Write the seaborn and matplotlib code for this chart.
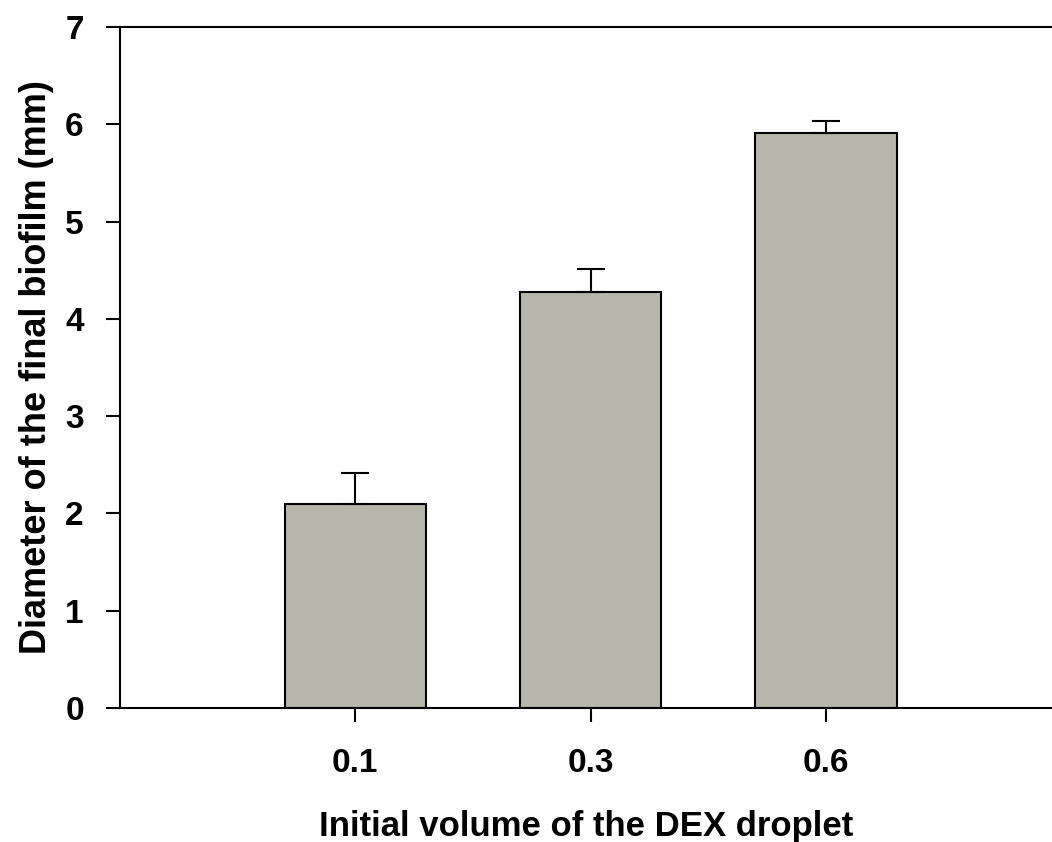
import numpy as np
import pandas as pd
import matplotlib
matplotlib.use('Agg')
import matplotlib.pyplot as plt
import seaborn as sns

# Data
volumes = ['0.1', '0.3', '0.6']
diameters = [2.10, 4.28, 5.91]
errors = [0.32, 0.23, 0.12]

df = pd.DataFrame({'Volume': volumes, 'Diameter': diameters, 'Err': errors})

sns.set_style('white')
plt.rcParams['font.family'] = ['Liberation Sans', 'DejaVu Sans']
plt.rcParams['font.weight'] = 'bold'
plt.rcParams['text.color'] = 'black'
plt.rcParams['axes.labelcolor'] = 'black'
plt.rcParams['xtick.color'] = 'black'
plt.rcParams['ytick.color'] = 'black'

fig = plt.figure(figsize=(10.52, 8.42), dpi=100)
ax = fig.add_axes([0.114, 0.159, 0.886, 0.809])

sns.barplot(data=df, x='Volume', y='Diameter', color='#B6B6AA', width=0.6,
            edgecolor='black', linewidth=1.5, errorbar=None, saturation=1, ax=ax)

# upward-only error bars
pos = np.arange(len(volumes))
ax.errorbar(pos, df['Diameter'], yerr=[np.zeros(len(errors)), df['Err']],
            fmt='none', ecolor='black', elinewidth=1.5, capsize=10, capthick=1.5)

ax.set_xlim(-1.0, 2.96)
ax.set_ylim(0, 7)
ax.set_yticks(range(0, 8))

for s in ['left', 'bottom', 'top']:
    ax.spines[s].set_visible(True)
    ax.spines[s].set_linewidth(1.5)
    ax.spines[s].set_color('black')
ax.spines['right'].set_visible(False)

ax.tick_params(axis='both', bottom=True, left=True, direction='out', length=10,
               width=1.5, color='black', labelcolor='black', labelsize=24)
ax.tick_params(axis='y', pad=16)
ax.tick_params(axis='x', pad=19)
for lab in ax.get_xticklabels() + ax.get_yticklabels():
    lab.set_fontweight('bold')

ax.set_xlabel('Initial volume of the DEX droplet', fontsize=25, fontweight='bold',
              color='black', labelpad=22)
ax.set_ylabel('Diameter of the final biofilm (mm)', fontsize=26, fontweight='bold',
              color='black', labelpad=8)

fig.savefig('out.png', dpi=100)
